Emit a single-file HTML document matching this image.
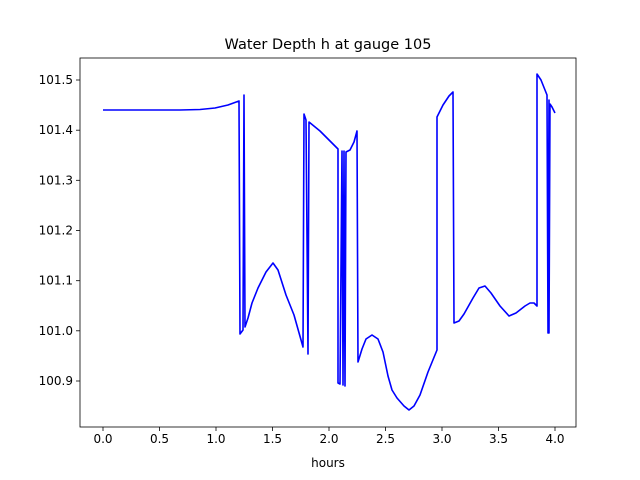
<!DOCTYPE html>
<html><head><style>
body{margin:0;background:#fff;}
svg{display:block;font-family:"DejaVu Sans","Liberation Sans",sans-serif;}
</style></head><body>
<svg width="640" height="480" xmlns="http://www.w3.org/2000/svg">
<rect width="640" height="480" fill="#fff"/>
<text x="328" y="49" text-anchor="middle" font-size="14.5">Water Depth h at gauge 105</text>
<g stroke="#000" stroke-width="0.8">
<line x1="103" y1="427" x2="103" y2="431"/>
<line x1="159.5" y1="427" x2="159.5" y2="431"/>
<line x1="216" y1="427" x2="216" y2="431"/>
<line x1="272.5" y1="427" x2="272.5" y2="431"/>
<line x1="329" y1="427" x2="329" y2="431"/>
<line x1="385.5" y1="427" x2="385.5" y2="431"/>
<line x1="442" y1="427" x2="442" y2="431"/>
<line x1="498.5" y1="427" x2="498.5" y2="431"/>
<line x1="555" y1="427" x2="555" y2="431"/>
<line x1="76" y1="80" x2="80" y2="80"/>
<line x1="76" y1="130.2" x2="80" y2="130.2"/>
<line x1="76" y1="180.3" x2="80" y2="180.3"/>
<line x1="76" y1="230.5" x2="80" y2="230.5"/>
<line x1="76" y1="280.7" x2="80" y2="280.7"/>
<line x1="76" y1="330.8" x2="80" y2="330.8"/>
<line x1="76" y1="381" x2="80" y2="381"/>
</g>
<g font-size="12" text-anchor="middle">
<text x="103" y="443">0.0</text><text x="159.5" y="443">0.5</text><text x="216" y="443">1.0</text>
<text x="272.5" y="443">1.5</text><text x="329" y="443">2.0</text><text x="385.5" y="443">2.5</text>
<text x="442" y="443">3.0</text><text x="498.5" y="443">3.5</text><text x="555" y="443">4.0</text>
<text x="328" y="467">hours</text>
</g>
<g font-size="12" text-anchor="end">
<text x="73" y="84">101.5</text><text x="73" y="134.2">101.4</text><text x="73" y="184.3">101.3</text>
<text x="73" y="234.5">101.2</text><text x="73" y="284.7">101.1</text><text x="73" y="334.8">101.0</text>
<text x="73" y="385">100.9</text>
</g>
<path fill="none" stroke="#0000ff" stroke-width="1.6" stroke-linejoin="round" d="M103,110 L180,110 L200,109.5 L215,108 L228,105 L239,101 L240,334 L243,330 L244,95 L245,327 L248,318 L252,303 L258,288 L266,272 L273,263 L278,270 L286,295 L294,315 L303,347 L304,114 L306,120 L308,354 L309,122 L320,131 L332,143 L338,149 L338,383 L340,384 L342,151 L343,385 L344,151 L345,386 L346,152 L350,150 L354,142 L357,131 L358,362 L362,349 L366,339 L372,335 L378,339 L383,352 L388,376 L392,390 L397,398 L404,406 L409,410 L414,406 L420,395 L428,372 L437,350 L437,117 L443,105 L449,96 L453,92 L454,323 L459,321 L464,314 L473,298 L479,288 L485,286 L491,293 L500,306 L509,316 L516,313 L525,306 L530,303 L534,303 L537,306 L537,74 L541,80 L547,95 L548,333 L549,100 L549,333 L550,104 L552,107 L555,113"/>
<rect x="80" y="58" width="496" height="369" fill="none" stroke="#000" stroke-width="0.8"/>
</svg>
</body></html>
